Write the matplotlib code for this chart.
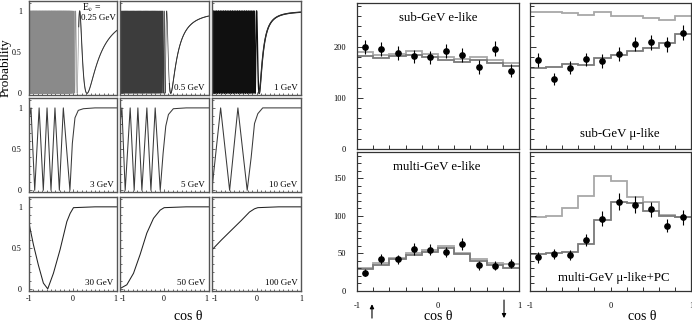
import numpy as np
import matplotlib
matplotlib.use('Agg')
import matplotlib.pyplot as plt
from matplotlib.ticker import MultipleLocator, FixedLocator

plt.rcParams['font.family'] = ['Liberation Serif', 'DejaVu Serif']
plt.rcParams['mathtext.fontset'] = 'stix'
plt.rcParams['axes.unicode_minus'] = False
plt.rcParams['path.simplify'] = False

# ---------------- data: left block (nu_mu survival probability vs cos theta) -------------
energy_labels = ['0.25 GeV', '0.5 GeV', '1 GeV', '3 GeV', '5 GeV', '10 GeV',
                 '30 GeV', '50 GeV', '100 GeV']

# dense panels (oscillations far below pixel scale): oscillation parameters
dense_energies = [0.25, 0.5, 1.0]      # GeV
dm2 = 5.0e-3                            # eV^2
sin2_2theta = 1.0
earth_radius_km = 6371.0
production_height_km = 20.0

# readable panels: curve vertices
cos_3gev = [-1.0, -0.955, -0.87, -0.77, -0.675, -0.59, -0.50, -0.41, -0.31, -0.22, -0.07,
            -0.015, 0.045, 0.12, 0.235, 0.5, 1.0]
p_3gev = [0.85, 1.0, 0.0, 1.0, 0.0, 1.0, 0.0, 1.0, 0.0, 1.0, 0.0,
          0.57, 0.88, 0.97, 0.99, 1.0, 1.0]

cos_5gev = [-1.0, -0.946, -0.872, -0.76, -0.67, -0.587, -0.497, -0.385, -0.294, -0.198, -0.085,
            -0.02, 0.04, 0.10, 0.21, 0.5, 1.0]
p_5gev = [0.75, 1.0, 0.0, 1.0, 0.0, 1.0, 0.0, 1.0, 0.0, 1.0, 0.0,
          0.45, 0.78, 0.92, 0.99, 1.0, 1.0]

cos_10gev = [-1.0, -0.806, -0.604, -0.418, -0.209, -0.12, -0.045, 0.03, 0.14, 0.5, 1.0]
p_10gev = [0.02, 1.0, 0.0, 1.0, 0.0, 0.40, 0.81, 0.93, 1.0, 1.0, 1.0]

cos_30gev = [-1.0, -0.90, -0.787, -0.673, -0.574, -0.445, -0.293, -0.14, -0.065, 0.011, 0.5, 1.0]
p_30gev = [0.80, 0.54, 0.29, 0.07, 0.0, 0.19, 0.48, 0.82, 0.92, 0.99, 1.0, 1.0]

cos_50gev = [-1.0, -0.835, -0.685, -0.536, -0.386, -0.236, -0.086, 0.004, 0.5, 1.0]
p_50gev = [0.0, 0.05, 0.19, 0.42, 0.68, 0.86, 0.96, 0.99, 1.0, 1.0]

cos_100gev = [-1.0, -0.79, -0.567, -0.343, -0.157, -0.045, 0.03, 0.5, 1.0]
p_100gev = [0.476, 0.595, 0.714, 0.833, 0.937, 0.976, 0.99, 1.0, 1.0]

read_curves = [(cos_3gev, p_3gev), (cos_5gev, p_5gev), (cos_10gev, p_10gev),
               (cos_30gev, p_30gev), (cos_50gev, p_50gev), (cos_100gev, p_100gev)]

# ---------------- data: right block (zenith angle distributions, 10 bins in cos theta) -------
cos_bin_edges = [-1.0, -0.8, -0.6, -0.4, -0.2, 0.0, 0.2, 0.4, 0.6, 0.8, 1.0]

subgev_e_data = [199, 195, 188, 181, 179, 191, 184, 160, 196, 153]
subgev_e_err = [14, 14, 14, 13, 13, 14, 14, 13, 14, 13]
subgev_e_noosc = [189, 184, 186, 191, 186, 179, 176, 179, 173, 168]
subgev_e_osc = [181, 178, 181, 184, 179, 173, 170, 173, 168, 162]

subgev_mu_data = [174, 137, 159, 175, 172, 186, 205, 208, 204, 227]
subgev_mu_err = [13, 12, 13, 13, 13, 14, 14, 14, 14, 15]
subgev_mu_noosc = [267, 268, 266, 261, 267, 260, 259, 256, 252, 260]
subgev_mu_osc = [158, 160, 165, 163, 178, 184, 192, 197, 206, 224]

multigev_e_data = [24.6, 43, 42, 56, 55, 52, 63, 34, 33.5, 36]
multigev_e_err = [5, 6.5, 6.5, 7.5, 7.5, 7, 8, 6, 6, 6]
multigev_e_noosc = [30, 37, 44, 50, 54, 60, 51, 42, 37, 36]
multigev_e_osc = [29, 35, 42, 48, 52, 57, 49, 40, 35, 30]

multigev_mu_data = [44.6, 49, 48, 68, 96, 119, 115, 109, 87, 98]
multigev_mu_err = [7, 7, 7, 8, 10, 11, 11, 10, 9, 10]
multigev_mu_noosc = [99, 100, 111, 126, 153, 147, 125, 118, 101, 99]
multigev_mu_osc = [49, 51, 52, 62, 95, 119, 117, 107, 100, 98]

right_titles = ['sub-GeV e-like', 'sub-GeV \u03bc-like', 'multi-GeV e-like',
                'multi-GeV \u03bc-like+PC']

# ---------------- figure ----------------
W, H = 692, 323
fig = plt.figure(figsize=(W / 100, H / 100), dpi=100)


def px_axes(x0, y0, x1, y1):
    return fig.add_axes([x0 / W, 1 - y1 / H, (x1 - x0) / W, (y1 - y0) / H])


def path_length(c):
    R = earth_radius_km
    h = production_height_km
    return np.sqrt((R + h) ** 2 - R ** 2 * (1 - c ** 2)) - R * c


left_cols = [(29, 117), (119.5, 208.5), (212, 301)]
left_rows = [(1, 95), (98, 192), (197, 290.5)]
dense_colors = ['#8a8a8a', '#3c3c3c', '#101010']
dense_widths = [0.45, 0.5, 1.0]
resolved_from = [0.13, 0.12, 0.05]   # where the curve becomes a resolved single line (style)
spine_gray = '#555555'

for i in range(9):
    r, cidx = divmod(i, 3)
    x0, x1 = left_cols[cidx]
    y0, y1 = left_rows[r]
    ax = px_axes(x0, y0, x1, y1)
    if i < 3:
        c = np.linspace(-1, 1, 40001)
        E = dense_energies[i]
        p = 1 - sin2_2theta * np.sin(1.267 * dm2 * path_length(c) / E) ** 2
        ax.plot(c, p, color=dense_colors[i], lw=dense_widths[i], antialiased=True)
        m = c >= resolved_from[i]
        ax.plot(c[m], p[m], color='#333333', lw=0.7)
    else:
        cc, pp = read_curves[i - 3]
        ax.plot(cc, pp, color='#3a3a3a' if r == 1 else '#222222', lw=0.75)
    ax.set_xlim(-1, 1)
    ax.set_ylim(-0.02, 1.12)
    ax.set_xticks([-1, 0, 1], labels=['-1', '0', '1'])
    ax.xaxis.set_minor_locator(MultipleLocator(0.1))
    ax.set_yticks([0, 0.5, 1], labels=['0', '0.5', '1'])
    ax.yaxis.set_minor_locator(MultipleLocator(0.1))
    ax.tick_params(which='both', direction='in', top=False, right=False,
                   labelsize=5.8, color=spine_gray, width=0.6)
    ax.tick_params(which='major', length=2.5)
    ax.tick_params(which='minor', length=1.3)
    ax.tick_params(axis='y', pad=5)
    ax.tick_params(axis='x', pad=3)
    for s in ax.spines.values():
        s.set_color(spine_gray)
        s.set_linewidth(1.0)
    if cidx != 0:
        ax.tick_params(labelleft=False)
    if r != 2:
        ax.tick_params(labelbottom=False)
    else:
        labs = ax.get_xticklabels()
        if cidx != 0:
            labs[0].set_horizontalalignment('left')
        if cidx != 2:
            labs[2].set_horizontalalignment('right')
    if i == 0:
        ax.text(0.6, 0.995, r'E$_{\nu}$ =', transform=ax.transAxes, fontsize=7,
                ha='left', va='top')
        ax.text(0.99, 0.82, energy_labels[i], transform=ax.transAxes, fontsize=6.5,
                ha='right', va='center')
    else:
        ax.text(0.96, 0.075, energy_labels[i], transform=ax.transAxes, fontsize=6.5,
                ha='right', va='center')

fig.text(6 / W, 1 - 68 / H, 'Probability', rotation=90, ha='center', va='center',
         fontsize=9.5)
fig.text(188 / W, 1 - 317 / H, 'cos \u03b8', ha='center', va='center', fontsize=10)

# right block
right_cols = [(357, 519), (530, 691)]
right_rows = [(3, 149), (152, 291)]
panels = [
    (subgev_e_data, subgev_e_err, subgev_e_noosc, subgev_e_osc),
    (subgev_mu_data, subgev_mu_err, subgev_mu_noosc, subgev_mu_osc),
    (multigev_e_data, multigev_e_err, multigev_e_noosc, multigev_e_osc),
    (multigev_mu_data, multigev_mu_err, multigev_mu_noosc, multigev_mu_osc),
]
title_pos = [(0.5, 0.90), (0.556, 0.10), (0.494, 0.89), (0.52, 0.096)]
edges = np.asarray(cos_bin_edges)
centers = 0.5 * (edges[:-1] + edges[1:])
right_axes = []
for k in range(4):
    r, cidx = divmod(k, 2)
    x0, x1 = right_cols[cidx]
    y0, y1 = right_rows[r]
    ax = px_axes(x0, y0, x1, y1)
    right_axes.append(ax)
    data, err, noosc, osc = panels[k]
    ax.stairs(noosc, edges, color='#a8a8a8', lw=1.3, baseline=None)
    ax.stairs(osc, edges, color='#7a7a7a', lw=1.3, baseline=None)
    ax.errorbar(centers, data, yerr=err, fmt='o', color='black', ms=3.8,
                elinewidth=0.8, capsize=0)
    ax.set_xlim(-1, 1)
    if r == 0:
        ax.set_ylim(0, 285)
        ax.yaxis.set_major_locator(FixedLocator([0, 100, 200]))
        ax.yaxis.set_minor_locator(MultipleLocator(20))
    else:
        ax.set_ylim(0, 185)
        ax.yaxis.set_major_locator(FixedLocator([0, 50, 100, 150]))
        ax.yaxis.set_minor_locator(MultipleLocator(10))
    ax.set_xticks([-1, 0, 1], labels=['-1', '0', '1'])
    ax.xaxis.set_minor_locator(MultipleLocator(0.2))
    ax.tick_params(which='both', direction='in', top=False, right=False,
                   labelsize=6, color='#333333', width=0.7)
    ax.tick_params(axis='y', which='major', length=4.5, pad=8)
    ax.tick_params(axis='y', which='minor', length=2.6)
    ax.tick_params(axis='x', which='both', length=2.8, pad=8)
    for s in ax.spines.values():
        s.set_color('#333333')
        s.set_linewidth(0.9)
    if cidx != 0:
        ax.tick_params(labelleft=False)
    if r != 1:
        ax.tick_params(labelbottom=False)
    tx, ty = title_pos[k]
    ax.text(tx, ty, right_titles[k], transform=ax.transAxes, fontsize=9.3,
            ha='center', va='center')

fig.text(438 / W, 1 - 317 / H, 'cos \u03b8', ha='center', va='center', fontsize=10)
fig.text(642 / W, 1 - 317 / H, 'cos \u03b8', ha='center', va='center', fontsize=10)

# up-going / down-going arrows under the multi-GeV e-like panel
axb = right_axes[2]
tr = axb.get_xaxis_transform()
axb.annotate('', xy=(-0.815, -0.095), xytext=(-0.815, -0.195), xycoords=tr,
             textcoords=tr, annotation_clip=False,
             arrowprops=dict(arrowstyle='-|>', color='black', lw=0.8,
                             mutation_scale=6, shrinkA=0, shrinkB=0))
axb.annotate('', xy=(0.815, -0.195), xytext=(0.815, -0.065), xycoords=tr,
             textcoords=tr, annotation_clip=False,
             arrowprops=dict(arrowstyle='-|>', color='black', lw=0.8,
                             mutation_scale=6, shrinkA=0, shrinkB=0))

fig.savefig('out.png', dpi=100)
